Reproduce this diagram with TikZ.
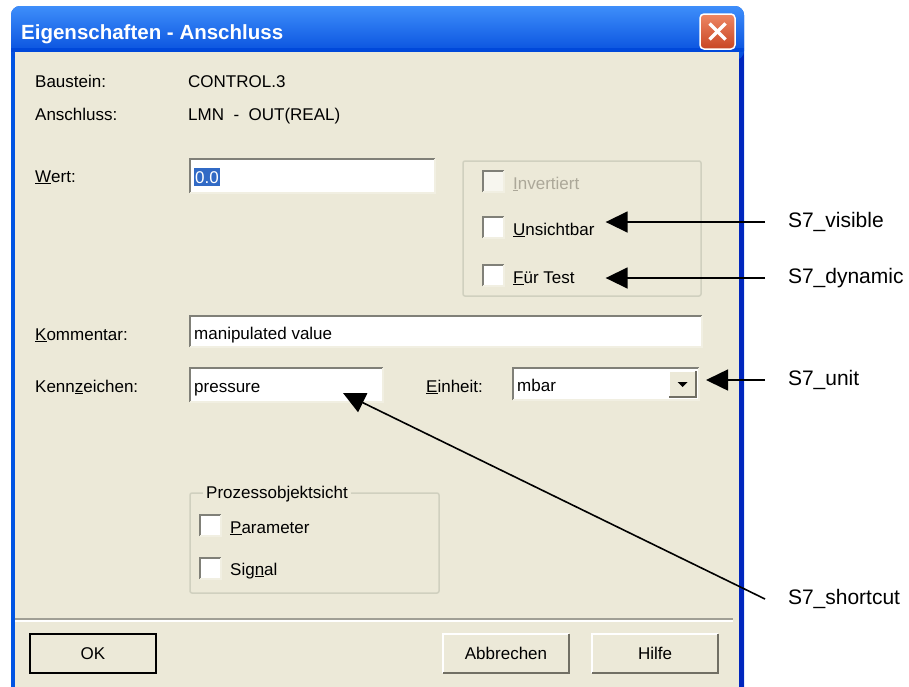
\documentclass[tikz,border=0pt]{standalone}
\usepackage{fontspec}
\setmainfont{Liberation Sans}
\usetikzlibrary{arrows.meta,calc}

\definecolor{dlgbg}{RGB}{236,233,216}
\definecolor{xpblue}{RGB}{0,84,227}
\definecolor{xpdark}{RGB}{0,38,190}
\definecolor{tbtop}{RGB}{62,142,250}
\definecolor{tbmid}{RGB}{0,88,238}
\definecolor{tbbot}{RGB}{0,72,218}
\definecolor{grpline}{RGB}{208,208,191}
\definecolor{edgedark}{RGB}{128,128,120}
\definecolor{edgelight}{RGB}{241,239,226}
\definecolor{btnshadow}{RGB}{113,111,100}
\definecolor{disabledtxt}{RGB}{172,168,153}
\definecolor{selblue}{RGB}{49,106,197}
\definecolor{closered}{RGB}{200,70,35}
\definecolor{closelight}{RGB}{238,135,100}

% sunken edge of a text field or check box
\newcommand\sunkenedge[1]{%
  \draw[edgedark, line width=2pt] (#1.south west) -- (#1.north west) -- (#1.north east);
  \draw[edgelight, line width=1.5pt] (#1.north east) -- (#1.south east) -- (#1.south west);}
% raised edge of a push button
\newcommand\raisededge[1]{%
  \draw[white, line width=2pt] (#1.south west) -- (#1.north west) -- (#1.north east);
  \draw[btnshadow, line width=2pt] (#1.north east) -- (#1.south east) -- (#1.south west);}

\tikzset{
  dlgtext/.style={anchor=base west, inner sep=0pt, font=\fontsize{17}{20}\selectfont},
  field/.style={anchor=north west, fill=white, inner sep=0pt, outer sep=0pt},
  chk/.style={anchor=north west, fill=white, minimum size=21pt, inner sep=0pt, outer sep=0pt},
  button/.style={anchor=north west, fill=dlgbg, minimum width=126pt, minimum height=39pt,
    inner sep=0pt, outer sep=0pt, font=\fontsize{17}{20}\selectfont},
  callout/.style={anchor=west, inner sep=0pt, outer xsep=23pt, font=\fontsize{21}{24}\selectfont},
  pointer/.style={line width=1.6pt, -{Triangle[length=22pt,width=21pt]}},
  groupbox/.style={draw=grpline, line width=1.5pt, rounded corners=2pt}
}

\begin{document}
\begin{tikzpicture}[x=1pt,y=-1pt]
\useasboundingbox (0,0) rectangle (909,686);
\fill[white] (0,0) rectangle (909,686);
\begin{scope}
\clip (0,0) rectangle (909,686);

% window frame and title bar
\fill[xpblue, rounded corners=9pt] (11,6) rectangle (744,720);
\fill[xpdark] (739,52) rectangle (744,690);
\shade[rounded corners=9pt, top color=tbtop, middle color=tbmid, bottom color=tbbot] (11,6) rectangle (744,60);
\fill[tbbot] (11,48) rectangle (744,52);
\fill[dlgbg] (15,52) rectangle (739,690);

\node[anchor=base west, text=white, inner sep=0pt, font=\bfseries\fontsize{20.5}{24}\selectfont]
  (title) at (21,39) {Eigenschaften - Anschluss};
\node[minimum size=35pt, inner sep=0pt, rounded corners=4pt, draw=white, line width=1.5pt,
  top color=closelight, bottom color=closered] (close) at (717.5,31.5) {};
\draw[white, line width=3.5pt] ($(close.center)+(-8,-8)$) -- ($(close.center)+(8,8)$);
\draw[white, line width=3.5pt] ($(close.center)+(-8,8)$) -- ($(close.center)+(8,-8)$);

% block and connection
\node[dlgtext] (lbaustein) at (35,87) {Baustein:};
\node[dlgtext] (vbaustein) at (188,87) {CONTROL.3};
\node[dlgtext] (lanschluss) at (35,120) {Anschluss:};
\node[dlgtext] (vanschluss) at (188,120) {LMN\ \ -\ \ OUT(REAL)};

% value
\node[dlgtext] (lwert) at (35,182) {\underline{W}ert:};
\node[field, minimum width=245pt, minimum height=34pt] (wert) at (190,159) {};
\sunkenedge{wert}
\node[dlgtext, fill=selblue, text=white, inner xsep=1pt, inner ysep=3pt] (vwert) at (194,183) {0.0};

% options group
\draw[groupbox] (463,161) rectangle (701,296);
\node[chk, fill=dlgbg!40!white] (cbinv) at (483,171) {};
\sunkenedge{cbinv}
\node[dlgtext, text=disabledtxt] (tinv) at (513,189) {\underline{I}nvertiert};
\node[chk] (cbvis) at (483,217) {};
\sunkenedge{cbvis}
\node[dlgtext] (tvis) at (513,235) {\underline{U}nsichtbar};
\node[chk] (cbtest) at (483,265) {};
\sunkenedge{cbtest}
\node[dlgtext] (ttest) at (513,283) {\underline{F}ür Test};

% comment
\node[dlgtext] (lkomm) at (35,340) {\underline{K}ommentar:};
\node[field, minimum width=512pt, minimum height=31pt] (komm) at (190,316) {};
\sunkenedge{komm}
\node[dlgtext] (vkomm) at (194,339) {manipulated value};

% identifier and unit
\node[dlgtext] (lkenn) at (35,392) {Kenn\underline{z}eichen:};
\node[field, minimum width=193pt, minimum height=34pt] (kenn) at (190,368) {};
\sunkenedge{kenn}
\node[dlgtext] (vkenn) at (194,392) {pressure};

\node[dlgtext] (leinheit) at (426,392) {\underline{E}inheit:};
\node[field, minimum width=186pt, minimum height=32pt] (einheit) at (513,368) {};
\sunkenedge{einheit}
\node[dlgtext] (veinheit) at (517,391) {mbar};
\node[button, minimum width=27pt, minimum height=26pt] (drop) at (669,371) {};
\raisededge{drop}
\fill ($(drop.center)+(-5,-2)$) -- ($(drop.center)+(5,-2)$) -- ($(drop.center)+(0,3)$) -- cycle;

% process object view group
\draw[groupbox] (190,493) rectangle (439,593);
\node[anchor=west, inner sep=0pt, fill=dlgbg, inner xsep=3pt, font=\fontsize{17}{20}\selectfont]
  (lpov) at (203,494) {Prozessobjektsicht};
\node[chk] (cbpar) at (200,515) {};
\sunkenedge{cbpar}
\node[dlgtext] (tpar) at (230,533) {\underline{P}arameter};
\node[chk] (cbsig) at (200,558) {};
\sunkenedge{cbsig}
\node[dlgtext] (tsig) at (230,575) {Sig\underline{n}al};

% separator
\draw[edgedark!70!dlgbg, line width=1.5pt] (15,619) -- (733,619);
\draw[white, line width=1.5pt] (15,621) -- (733,621);

% push buttons
\node[button] (ok) at (30,634) {OK};
\raisededge{ok}
\draw[black, line width=2pt] (ok.north west) rectangle (ok.south east);
\node[button] (abbr) at (443,634) {Abbrechen};
\raisededge{abbr}
\node[button] (hilfe) at (592,634) {Hilfe};
\raisededge{hilfe}
\end{scope}

% attribute call-outs
\node[callout] (cvis) at (765,222) {S7\_visible};
\node[callout] (cdyn) at (765,278) {S7\_dynamic};
\node[callout] (cunit) at (765,380) {S7\_unit};
\node[callout] (cshort) at (765,599) {S7\_shortcut};

\coordinate (tipx) at ($(tvis.east)+(11,0)$);
\draw[pointer] (cvis.west) -- (cvis.west -| tipx);
\draw[pointer] (cdyn.west) -- (cdyn.west -| tipx);
\draw[pointer] (cunit.west) -- ($(einheit.east)+(7,-4)$);
\draw[pointer] (cshort.west) -- ($(kenn.south east)+(-40,-9)$);
\end{tikzpicture}
\end{document}
